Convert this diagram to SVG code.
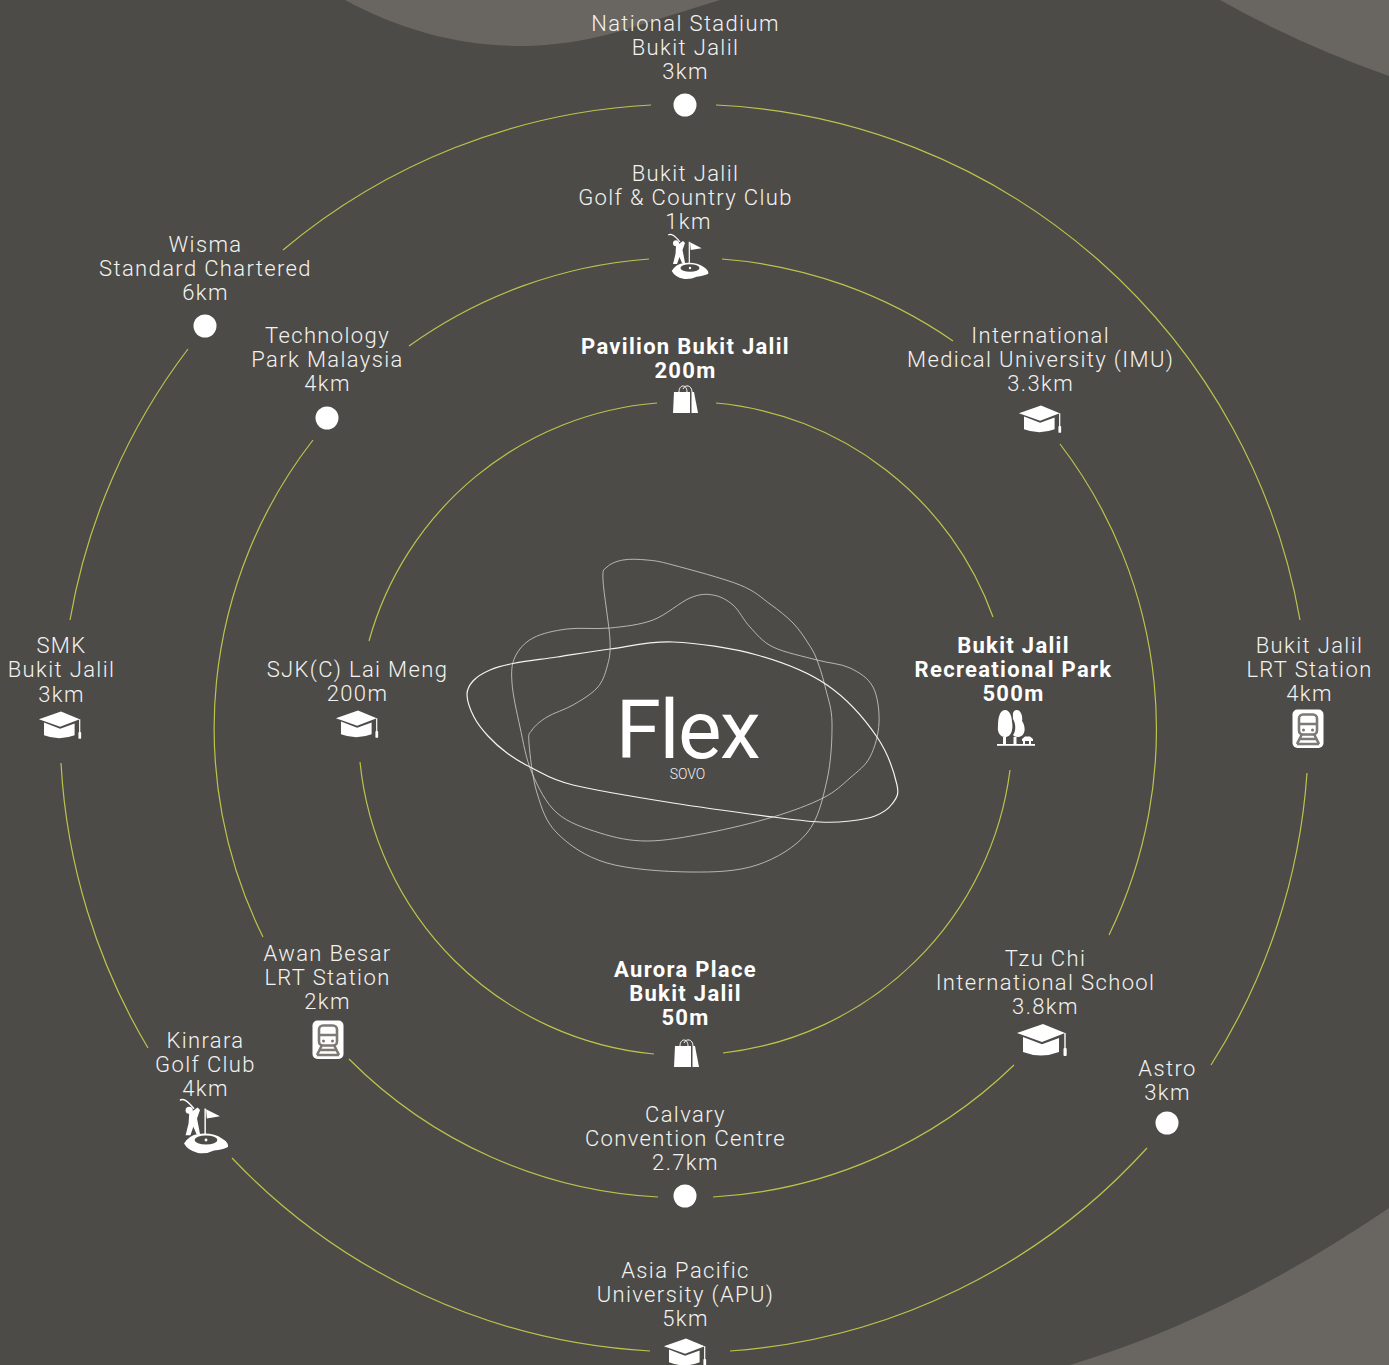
<svg xmlns="http://www.w3.org/2000/svg" width="1389" height="1365" viewBox="0 0 1389 1365">
<style>
.t{font-family:Roboto,"Liberation Sans",sans-serif;font-weight:300;font-size:22px;letter-spacing:1.37px;fill:#f2f2f0;text-anchor:middle}
.b{font-weight:700;letter-spacing:1.3px;fill:#fff}
.arc{fill:none;stroke:#bcc44c;stroke-width:1.2}
.blob{fill:none;stroke:#d2d1ce;stroke-width:.8}
.dot{fill:#fff}
.bgb{fill:#696561}
.w{fill:#fff}
.gap{fill:#4d4b47}
.wl{fill:none;stroke:#fff}
.tg{fill:none;stroke:#7d7a74;stroke-width:2.6}
</style>
<defs>
<g id="cap"><path class="w" d="M-26-8L0-17L22-8L-1 1Z"/><path class="w" d="M-20-4L-1 3.200L16-3V11Q-2 18-20 11Z"/><path class="wl" stroke-width="1.400" d="M22-8V8"/><rect class="w" x="20.500" y="7" width="3.200" height="8" rx="1"/></g>
<g id="golf"><circle class="w" cx="-14" cy="-14.700" r="3"/><path class="wl" stroke-width="1.200" d="M-21.700-23Q-18-26-10-16"/><path class="w" d="M-14-12L-7-17L-5-15L-7.500-8L-6.500-3L-5 5L-8 5L-10.500-1L-13 6L-17 6L-14.500-4Z"/><path class="wl" stroke-width="1.200" d="M-.7-16.300V10"/><path class="w" d="M0-15.700L11.700-9.700L.7-8Z"/><path class="w" d="M-18.300 13Q-14 6-6.700 5Q6 3.500 13.300 8.700Q19 12 18.300 15.800Q14 18 6.700 18.700Q0 22-6.700 20.800Q-15 19-18.300 13Z"/><ellipse class="gap" cx="0" cy="10" rx="9.500" ry="3.800"/><circle class="w" cx="0" cy="10" r="1.200"/></g>
<g id="bag"><path class="w" d="M-11-10H5V11H-12Z"/><path class="w" d="M6.500-10H9L13 11H6.500Z"/><path class="wl" stroke-width="1" d="M-6-10C-6-18 2-18 2-10M-2-13C0-18 7-17 7-10"/></g>
<g id="tree"><path class="w" d="M-10-18C-5-18-3-11-3-6C-2-2-2 9-10 9C-15 9-18 4-17-2C-17-8-16-18-10-18Z"/><path class="w" d="M1-18C6-19 8-11 7-7C11-2 11 9 3 9C0 9-1 8-2 7C1 3 1-4-2-9C-2-13-3-17 1-18Z"/><rect class="w" x="-12" y="9" width="3" height="7"/><rect class="w" x="-1.500" y="9" width="3" height="7"/><rect class="w" x="-18" y="16" width="38" height="1.800"/><path class="w" d="M7 11L10 8.500H15L18 11V13H16V16H14V13H10V16H8V13H7Z"/></g>
<g id="train"><rect class="w" x="-15.500" y="-19.500" width="31" height="38.500" rx="5"/><rect class="tg" x="-9" y="-14.500" width="18" height="20" rx="4"/><path class="tg" d="M-9-5H9M-6 5L-11 15M6 5L11 15M-9 10H9M-11 15H11"/><circle cx="-4.500" cy="1" r="1.500" fill="#7d7a74"/><circle cx="4.500" cy="1" r="1.500" fill="#7d7a74"/></g>
</defs>
<rect width="1389" height="1365" fill="#4d4b47"/>
<g id="background">
<path class="bgb" d="M345 0C400 30 460 46 520 46C560 46 600 38 630 28L720 0Z"/>
<path class="bgb" d="M1220 0Q1300 45 1389 76V0Z"/>
<path class="bgb" d="M1070 1365C1190 1328 1290 1275 1389 1208V1365Z"/>
</g>
<g id="connectors">
<path class="arc" d="M716 105A623 623 0 0 1 1300 620"/>
<path class="arc" d="M1307 773A623 623 0 0 1 1211 1065"/>
<path class="arc" d="M1147 1148A623 623 0 0 1 730 1351"/>
<path class="arc" d="M650 1351A623 623 0 0 1 232 1158"/>
<path class="arc" d="M148 1048A623 623 0 0 1 61 763"/>
<path class="arc" d="M70 620A623 623 0 0 1 188 349"/>
<path class="arc" d="M283 250A623 623 0 0 1 651 105"/>
<path class="arc" d="M722 259A470 470 0 0 1 953 341"/>
<path class="arc" d="M1060 444A470 470 0 0 1 1109 935"/>
<path class="arc" d="M1014 1065A470 470 0 0 1 713 1197"/>
<path class="arc" d="M658 1197A470 470 0 0 1 349 1059"/>
<path class="arc" d="M263 937A470 470 0 0 1 313 440"/>
<path class="arc" d="M409 346A470 470 0 0 1 649 259"/>
<path class="arc" d="M716 403A326 326 0 0 1 993 617"/>
<path class="arc" d="M1010 770A326 326 0 0 1 723 1053"/>
<path class="arc" d="M654 1054A326 326 0 0 1 360 762"/>
<path class="arc" d="M369 641A326 326 0 0 1 657 403"/>
</g>
<g id="logo">
<path class="blob" d="M623 560C629.700 558.800 638.700 559.200 647 560S657.500 560.800 673 565S724 578.500 740 585S761.200 597.700 770 604S786.700 616.500 793 623S804 636.800 808 643S814 652.200 817 660S823.500 679.500 826 690S831.800 708 832 723S831.200 761.700 827 780S818.700 818.800 807 833S776.500 858.500 757 865S715 872.300 690 872S629.200 869.500 607 863S568.700 844.700 557 833S541.700 808 537 793S529.800 753.500 529 743S529 734.300 532 730S540.200 721.200 547 717S564.700 709.800 573 705S591.300 694.300 597 688S604.800 675 607 667S610.700 654.500 610 640S603.500 592.200 603 580S603.700 570.300 607 567S616.300 561.200 623 560Z"/>
<path class="blob" d="M515 657C511.500 664.500 511.200 671.300 512 683S516.700 712 520 727S525.800 758.700 532 773S545.700 803 557 813S585 828.300 600 833S629.200 841 647 841S686 837 707 833S753.700 822.800 773 817S810.200 804.500 823 798S842.200 784.800 850 778S865.200 766.200 870 757S878.500 734.700 879 723S877.800 696.200 873 687S859.300 672.500 850 668S829.800 663.500 817 660S784.200 652.500 773 647S756.700 634 750 627S739.200 610.300 733 605S720.200 596.200 713 595S700 593.800 690 598S666.300 615 653 620S624.300 626.500 610 628S579.800 627.300 567 629S541.700 633.300 533 638S518.500 649.500 515 657Z"/>
<path class="blob" style="stroke:#f4f4f2;stroke-width:1.200" d="M467 695C466.800 689 469.200 685.200 473 681S483.300 672.900 490 670S502 665.700 513 663.500S541 659.400 557 657S590.700 651.500 610 649S648.500 641 673 642S731.300 647.800 757 655S807 671.300 827 685S865.300 719.800 877 737S894.500 774 897 785S895.700 798.800 892 804S882 813.200 875 816S859 820 850 821S832.800 822.700 820 822S797.500 820.200 773 817S706.300 808.300 673 803S596.500 790.800 573 785S543 773.300 532 768S514.300 758.300 507 753S493.500 742 488 736S477.500 723.800 474 717S467.200 701 467 695Z"/>
<text x="687.500" y="758" style="font-family:Roboto,'Liberation Sans',sans-serif;font-weight:400;font-size:82px;letter-spacing:-1.500px;fill:#fff;text-anchor:middle">Flex</text>
<text x="687.500" y="779" style="font-family:Roboto,'Liberation Sans',sans-serif;font-weight:300;font-size:14px;fill:#f2f2f0;text-anchor:middle">SOVO</text>
</g>
<g id="n-stadium"><text class="t"><tspan x="685.500" y="31">National Stadium</tspan><tspan x="685.500" y="55">Bukit Jalil</tspan><tspan x="685.500" y="79">3km</tspan></text><circle class="dot" cx="685" cy="105" r="11.500"/></g>
<g id="n-golf"><text class="t"><tspan x="685.500" y="181">Bukit Jalil</tspan><tspan x="685.500" y="205">Golf &amp; Country Club</tspan><tspan x="688.500" y="229">1km</tspan></text><use href="#golf" x="690" y="258"/></g>
<g id="n-wisma"><text class="t"><tspan x="205.500" y="252">Wisma</tspan><tspan x="205.500" y="276">Standard Chartered</tspan><tspan x="205.500" y="300">6km</tspan></text><circle class="dot" cx="205" cy="326" r="11.500"/></g>
<g id="n-tpm"><text class="t"><tspan x="327.500" y="343">Technology</tspan><tspan x="327.500" y="367">Park Malaysia</tspan><tspan x="327.500" y="391">4km</tspan></text><circle class="dot" cx="327" cy="418" r="11.500"/></g>
<g id="n-pavilion"><text class="t b"><tspan x="685.500" y="354">Pavilion Bukit Jalil</tspan><tspan x="685.500" y="378">200m</tspan></text><use href="#bag" x="685" y="402"/></g>
<g id="n-imu"><text class="t"><tspan x="1040.700" y="343">International</tspan><tspan x="1040.700" y="367">Medical University (IMU)</tspan><tspan x="1040.700" y="391">3.3km</tspan></text><use href="#cap" transform="translate(1041 420) scale(.85)"/></g>
<g id="n-smk"><text class="t"><tspan x="61.500" y="653">SMK</tspan><tspan x="61.500" y="677">Bukit Jalil</tspan><tspan x="61.500" y="702">3km</tspan></text><use href="#cap" transform="translate(61 726) scale(.85)"/></g>
<g id="n-sjk"><text class="t"><tspan x="357.500" y="677">SJK(C) Lai Meng</tspan><tspan x="357.500" y="701">200m</tspan></text><use href="#cap" transform="translate(358 725) scale(.85)"/></g>
<g id="n-park"><text class="t b"><tspan x="1013.500" y="653">Bukit Jalil</tspan><tspan x="1013.500" y="677">Recreational Park</tspan><tspan x="1013.500" y="701">500m</tspan></text><use href="#tree" x="1015" y="728"/></g>
<g id="n-lrt"><text class="t"><tspan x="1309.500" y="653">Bukit Jalil</tspan><tspan x="1309.500" y="677">LRT Station</tspan><tspan x="1309.500" y="701">4km</tspan></text><use href="#train" x="1308" y="729"/></g>
<g id="n-tzuchi"><text class="t"><tspan x="1045.500" y="966">Tzu Chi</tspan><tspan x="1045.500" y="990">International School</tspan><tspan x="1045.500" y="1014">3.8km</tspan></text><use href="#cap" x="1043" y="1041"/></g>
<g id="n-aurora"><text class="t b"><tspan x="685.500" y="977">Aurora Place</tspan><tspan x="685.500" y="1001">Bukit Jalil</tspan><tspan x="685.500" y="1025">50m</tspan></text><use href="#bag" x="686" y="1056"/></g>
<g id="n-awan"><text class="t"><tspan x="327.500" y="961">Awan Besar</tspan><tspan x="327.500" y="985">LRT Station</tspan><tspan x="327.500" y="1009">2km</tspan></text><use href="#train" x="328" y="1040"/></g>
<g id="n-kinrara"><text class="t"><tspan x="205.500" y="1048">Kinrara</tspan><tspan x="205.500" y="1072">Golf Club</tspan><tspan x="205.500" y="1096">4km</tspan></text><use href="#golf" transform="translate(206 1128) scale(1.200)"/></g>
<g id="n-astro"><text class="t"><tspan x="1167.500" y="1076">Astro</tspan><tspan x="1167.500" y="1100">3km</tspan></text><circle class="dot" cx="1167" cy="1123" r="11.500"/></g>
<g id="n-calvary"><text class="t"><tspan x="685.500" y="1122">Calvary</tspan><tspan x="685.500" y="1146">Convention Centre</tspan><tspan x="685.500" y="1170">2.7km</tspan></text><circle class="dot" cx="685" cy="1196" r="11.500"/></g>
<g id="n-apu"><text class="t"><tspan x="685.500" y="1278">Asia Pacific</tspan><tspan x="685.500" y="1302">University (APU)</tspan><tspan x="685.500" y="1326">5km</tspan></text><use href="#cap" transform="translate(686 1353) scale(.85)"/></g>
</svg>
